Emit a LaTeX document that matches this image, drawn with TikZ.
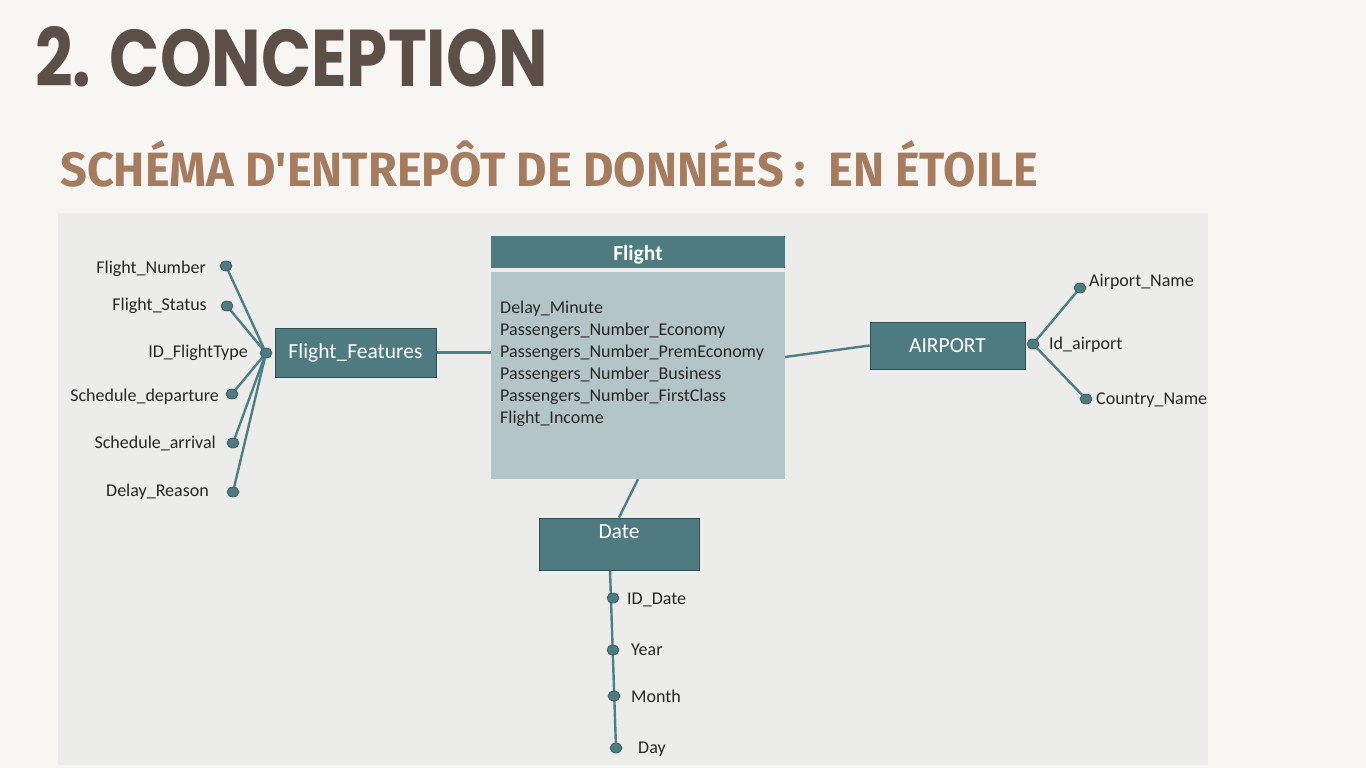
\documentclass[tikz,border=0pt]{standalone}
\usepackage{fontspec}
\setmainfont{Carlito}
\newfontfamily\titlefont{Poppins}
\newfontfamily\subfont{Fira Sans}
\usetikzlibrary{shapes.geometric}
\definecolor{pagebg}{HTML}{F8F6F2}
\definecolor{panelbg}{HTML}{ECECEA}
\definecolor{tealbox}{HTML}{4D7B80}
\definecolor{boxline}{HTML}{2F4F53}
\definecolor{bodygray}{HTML}{B4C5C8}
\definecolor{linkteal}{HTML}{4F7E84}
\definecolor{labelgray}{HTML}{262626}
\definecolor{titlebrown}{HTML}{5B4F47}
\definecolor{subbrown}{HTML}{A67C60}
\pgfdeclarelayer{back}
\pgfdeclarelayer{background}
\pgfsetlayers{back,background,main}
\tikzset{
  dimbox/.style={draw=boxline, fill=tealbox, text=white, line width=0.8pt, font=\fontsize{21.5}{24}\selectfont},
  attrdot/.style={ellipse, draw=boxline, fill=tealbox, minimum width=12pt, minimum height=10pt, inner sep=0pt, line width=0.6pt},
  attrlab/.style={font=\fontsize{18}{21}\selectfont, text=labelgray, inner sep=0pt, text height=13pt, text depth=4pt, yshift=-2pt},
  link/.style={draw=linkteal, line width=2.4pt},
}
\begin{document}
\begin{tikzpicture}[x=1pt,y=-1pt]
\begin{pgfonlayer}{back}
\fill[pagebg] (0,0) rectangle (1366,768);
\fill[panelbg] (58,213) rectangle (1208,765);
\end{pgfonlayer}
\useasboundingbox (0,0) rectangle (1366,768);

% titles
\node[anchor=north west, inner sep=0pt, text=titlebrown] (title) at (35,26){\resizebox{512pt}{60pt}{\titlefont\bfseries 2. CONCEPTION}};
\node[anchor=north west, inner sep=0pt, text=subbrown] (subtitle) at (60,140){\resizebox{978pt}{46pt}{\subfont\bfseries SCHÉMA D'ENTREPÔT DE DONNÉES :\ \ EN ÉTOILE}};

% fact table
\node[fill=tealbox, minimum width=294pt, minimum height=32pt, inner sep=0pt] (facth) at (638,252){};
\node[text=white, font=\fontsize{21.5}{24}\selectfont\bfseries, inner sep=0pt] (facthlab) at (638,255){Flight};
\node[fill=bodygray, minimum width=294pt, minimum height=207pt, inner sep=0pt] (factb) at (638,375.5){};
\node[anchor=north west, align=left, inner sep=0pt, text=labelgray, font=\fontsize{18}{22}\selectfont] (measures) at (500,301){Delay\_Minute\\Passengers\_Number\_Economy\\Passengers\_Number\_PremEconomy\\Passengers\_Number\_Business\\Passengers\_Number\_FirstClass\\Flight\_Income};

% dimensions
\node[dimbox, minimum width=161pt, minimum height=49pt] (ff) at (355.5,352.5){Flight\_Features};
\node[dimbox, minimum width=155pt, minimum height=47pt] (ap) at (947.5,345.5){AIRPORT};
\node[dimbox, minimum width=160pt, minimum height=52pt] (date) at (619,544){};
\node[text=white, font=\fontsize{21.5}{24}\selectfont, inner sep=0pt] (datelab) at (619,532){Date};
\coordinate (fbody) at (785,357);
\coordinate (dstem) at (610,570);

% flight_features attributes
\node[attrdot] (fft) at (266,353){};
\node[attrdot] (ffn) at (226,266){};
\node[attrdot] (ffs) at (227,306){};
\node[attrdot] (ffd) at (232,394){};
\node[attrdot] (ffa) at (233,443){};
\node[attrdot] (ffr) at (233,492){};
\node[attrlab, anchor=east] (lffn) at (206,267){Flight\_Number};
\node[attrlab, anchor=east] (lffs) at (207,304){Flight\_Status};
\node[attrlab, anchor=east] (lfft) at (248,351){ID\_FlightType};
\node[attrlab, anchor=east] (lffd) at (219,395){Schedule\_departure};
\node[attrlab, anchor=east] (lffa) at (216,442){Schedule\_arrival};
\node[attrlab, anchor=east] (lffr) at (209,490){Delay\_Reason};

% airport attributes
\node[attrdot] (apid) at (1033,344){};
\node[attrdot] (apn) at (1080,288){};
\node[attrdot] (apc) at (1086,399){};
\node[attrlab, anchor=west] (lapn) at (1089,280){Airport\_Name};
\node[attrlab, anchor=west] (lapid) at (1049,343){Id\_airport};
\node[attrlab, anchor=west] (lapc) at (1096,398){Country\_Name};

% date attributes
\node[attrdot] (did) at (613,598){};
\node[attrdot] (dy) at (613,650){};
\node[attrdot] (dm) at (614,696){};
\node[attrdot] (dd) at (616,748){};
\node[attrlab, anchor=west] (ldid) at (627,598){ID\_Date};
\node[attrlab, anchor=west] (ldy) at (631,649){Year};
\node[attrlab, anchor=west] (ldm) at (631,696){Month};
\node[attrlab, anchor=west] (ldd) at (638,747){Day};

\begin{pgfonlayer}{background}
\draw[link](ff.east) -- (ff.east -| factb.west);
\draw[link](fbody) -- (ap.west);
\draw[link](factb.south) -- (date.north);
\draw[link](dstem) -- (dd);
\draw[link](fft) -- (ffn);
\draw[link](fft) -- (ffs);
\draw[link](fft) -- (ffd);
\draw[link](fft) -- (ffa);
\draw[link](fft) -- (ffr);
\draw[link](apid) -- (apn);
\draw[link](apid) -- (apc);
\end{pgfonlayer}
\end{tikzpicture}
\end{document}
